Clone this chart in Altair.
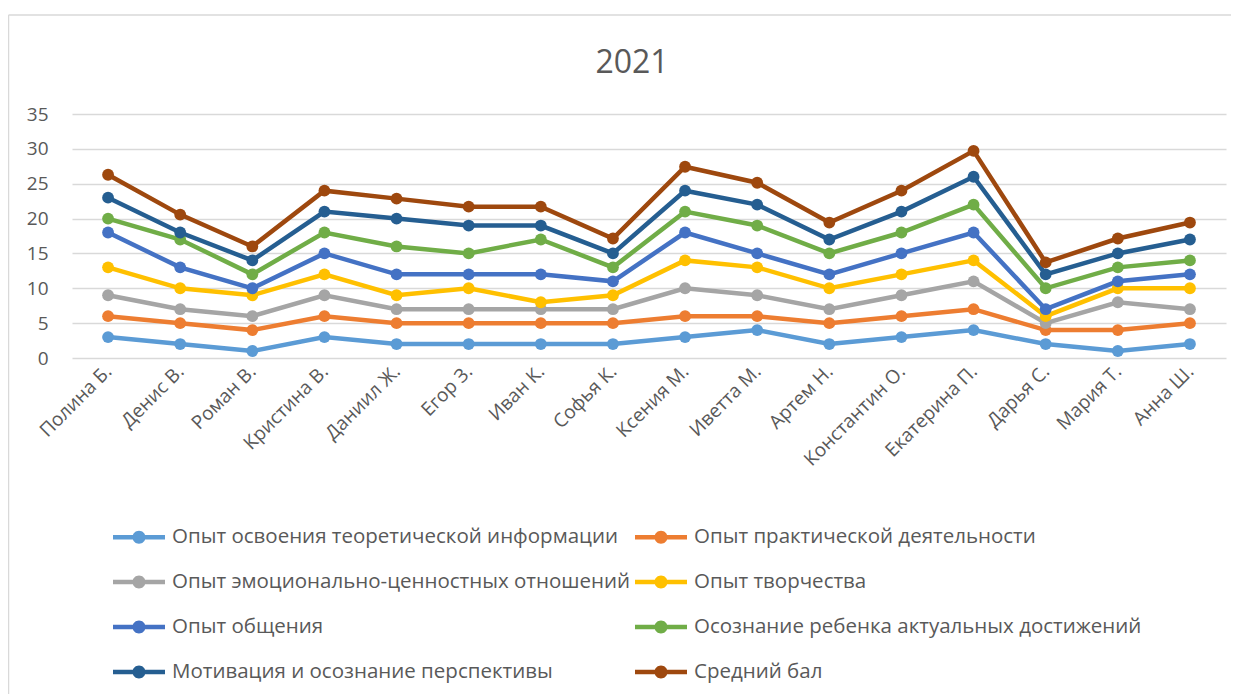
import altair as alt
import pandas as pd

persons = ["Полина Б.", "Денис В.", "Роман В.", "Кристина В.", "Даниил Ж.", "Егор З.",
           "Иван К.", "Софья К.", "Ксения М.", "Иветта М.", "Артем Н.", "Константин О.",
           "Екатерина П.", "Дарья С.", "Мария Т.", "Анна Ш."]

series_names = [
    "Опыт освоения теоретической информации",
    "Опыт практической деятельности",
    "Опыт эмоционально-ценностных отношений",
    "Опыт творчества",
    "Опыт общения",
    "Осознание ребенка актуальных достижений",
    "Мотивация и осознание перспективы",
    "Средний бал",
]

theory = [3, 2, 1, 3, 2, 2, 2, 2, 3, 4, 2, 3, 4, 2, 1, 2]
practice = [3, 3, 3, 3, 3, 3, 3, 3, 3, 2, 3, 3, 3, 2, 3, 3]
emotion = [3, 2, 2, 3, 2, 2, 2, 2, 4, 3, 2, 3, 4, 1, 4, 2]
creativity = [4, 3, 3, 3, 2, 3, 1, 2, 4, 4, 3, 3, 3, 1, 2, 3]
communication = [5, 3, 1, 3, 3, 2, 4, 2, 4, 2, 2, 3, 4, 1, 1, 2]
awareness = [2, 4, 2, 3, 4, 3, 5, 2, 3, 4, 3, 3, 4, 3, 2, 2]
motivation = [3, 1, 2, 3, 4, 4, 2, 2, 3, 3, 2, 3, 4, 2, 2, 3]
average = [3.29, 2.57, 2.0, 3.0, 2.86, 2.71, 2.71, 2.14, 3.43, 3.14, 2.43, 3.0, 3.71, 1.71, 2.14, 2.43]

series_values = [theory, practice, emotion, creativity, communication, awareness, motivation, average]
colors = ["#5B9BD5", "#ED7D31", "#A5A5A5", "#FFC000", "#4472C4", "#70AD47", "#255E91", "#9E480E"]

rows = []
for si, (name, vals) in enumerate(zip(series_names, series_values)):
    for p, v in zip(persons, vals):
        rows.append({"person": p, "series": name, "idx": si, "value": v})
df = pd.DataFrame(rows)

FONT = "Open Sans"
GREY = "#595959"

legend_path = ("M-1,-0.085L1,-0.085L1,0.085L-1,0.085Z "
               "M0.25,0A0.25,0.25,0,1,1,-0.25,0A0.25,0.25,0,1,1,0.25,0Z")

base = alt.Chart(df).transform_window(
    cum="sum(value)", frame=[None, 0], groupby=["person"], sort=[alt.SortField("idx")]
)

x_enc = alt.X("person:N", sort=persons, title=None,
              scale=alt.Scale(paddingInner=1, paddingOuter=0.5),
              axis=alt.Axis(labelAngle=-45, labelAlign="right", labelBaseline="middle",
                            labelPadding=10, domain=False, ticks=False, grid=False,
                            labelFontSize=19, labelColor=GREY, labelFont=FONT))
y_enc = alt.Y("cum:Q", title=None,
              scale=alt.Scale(domain=[0, 35]),
              axis=alt.Axis(values=[0, 5, 10, 15, 20, 25, 30, 35], domain=False, ticks=False,
                            gridColor="#D9D9D9", gridWidth=1.3, labelPadding=24,
                            labelFontSize=19, labelColor=GREY, labelFont=FONT))
color_scale = alt.Scale(domain=series_names, range=colors)

lines = base.mark_line(strokeWidth=4.5).encode(
    x=x_enc, y=y_enc,
    color=alt.Color("series:N", scale=color_scale, legend=None),
    detail="series:N",
)

points = base.mark_point(filled=True, size=140, opacity=1).encode(
    x=x_enc, y=y_enc,
    color=alt.Color("series:N", scale=color_scale,
                    legend=alt.Legend(title=None, orient="none", legendX=41, legendY=397,
                                      columns=2, direction="horizontal",
                                      symbolType=legend_path, symbolSize=2704,
                                      symbolStrokeWidth=0, labelOffset=7,
                                      labelFontSize=20.5, labelColor=GREY, labelFont=FONT,
                                      labelLimit=0, rowPadding=8, columnPadding=4,
                                      padding=0)),
    order=alt.Order("idx:Q"),
)

frame_src = alt.Chart(pd.DataFrame({"k": [0]}))
frame_top = frame_src.mark_rule(stroke="#D9D9D9", strokeWidth=1.5).encode(
    x=alt.value(-63.5), x2=alt.value(1300), y=alt.value(-99))
frame_left = frame_src.mark_rule(stroke="#D9D9D9", strokeWidth=1.5).encode(
    x=alt.value(-63.5), y=alt.value(-99), y2=alt.value(700))

chart = alt.layer(frame_top, frame_left, lines, points).resolve_legend(color="independent").properties(
    width=1154, height=244,
    title=alt.TitleParams("2021", fontSize=32, font=FONT, color=GREY, fontWeight="normal",
                          anchor="middle", offset=-66, dx=-17),
    padding={"left": 64, "top": 106, "right": 5, "bottom": 336},
    autosize=alt.AutoSizeParams(type="none"),
).configure_view(stroke=None)

chart.save("out.html", embed_options={"renderer": "svg", "actions": False})
